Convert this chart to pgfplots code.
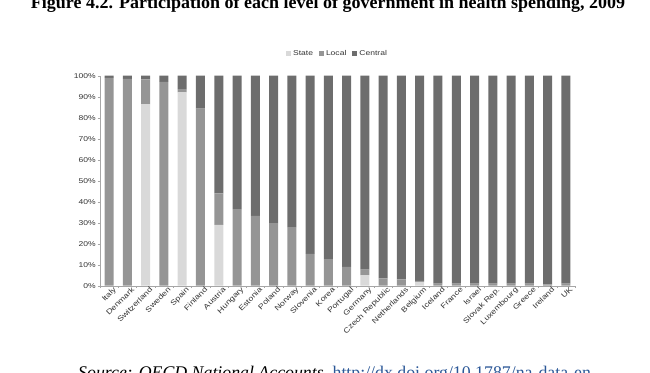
\documentclass[border=0pt]{standalone}
\usepackage{fontspec}
\setmainfont{Liberation Serif}
\newfontfamily\chartfont[FakeStretch=1.22]{Liberation Sans}
\usepackage{pgfplots}
\pgfplotsset{compat=1.18}
\usepackage{pgfplotstable}
\definecolor{cstate}{HTML}{D9D9D9}
\definecolor{clocal}{HTML}{959595}
\definecolor{ccentral}{HTML}{6D6D6D}
\definecolor{linkblue}{HTML}{2B5797}
\pgfplotstableread{
idx state local central
0  0    99   1
1  0    98.5 1.5
2  86.3 12   1.7
3  0    97   3
4  92   1.6  6.4
5  0    84.3 15.7
6  29   15   56
7  0    36.5 63.5
8  0    33.2 66.8
9  0    29.8 70.2
10 0    27.9 72.1
11 0    15.1 84.9
12 0    12.7 87.3
13 0    9    91
14 5    2.7  92.3
15 0    3.5  96.5
16 0    3    97
17 1.8  0.5  97.7
18 0    1    99
19 0    1    99
20 0    1    99
21 0    1    99
22 0    1    99
23 0    1    99
24 0    0.6  99.4
25 0    1    99
}\data
\begin{document}
\begin{tikzpicture}
\useasboundingbox (0,0) rectangle (650pt,372pt);
\node[font=\bfseries\fontsize{18}{21}\selectfont, anchor=base, inner sep=0pt] at (328pt,363pt) {Figure 4.2. Participation of each level of government in health spending, 2009};
\node[anchor=base west, font=\fontsize{17.8}{20}\selectfont, inner sep=0pt] at (78pt,-6pt) {\textit{Source: OECD National Accounts,} \textcolor{linkblue}{http://dx.doi.org/10.1787/na-data-en}};
\begin{axis}[
  at={(100pt,86.3pt)}, anchor=south west,
  scale only axis, width=475pt, height=210pt,
  ybar stacked, bar width=9pt,
  xmin=-0.5, xmax=25.5, ymin=0, ymax=100,
  axis lines*=left,
  axis line style={draw=gray!70},
  tick style={draw=gray!70},
  tick align=outside, major tick length=2.5pt,
  ytick={0,10,...,100},
  /pgf/number format/assume math mode=true,
  yticklabel={\pgfmathprintnumber{\tick}\%},
  ticklabel style={font=\chartfont\fontsize{7}{8}\selectfont, text=black!80},
  yticklabel style={inner sep=1.5pt},
  xtick={-0.5,0.5,...,25.5}, xticklabels={},
  extra x ticks={0,1,...,25},
  extra x tick labels={Italy,Denmark,Switzerland,Sweden,Spain,Finland,Austria,Hungary,Estonia,Poland,Norway,Slovenia,Korea,Portugal,Germany,{Czech Republic},Netherlands,Belgium,Iceland,France,Israel,{Slovak Rep.},Luxembourg,Greece,Ireland,UK},
  extra x tick style={major tick length=0pt, tick label style={rotate=45, anchor=north east, inner sep=1pt, yshift=-2pt, xshift=3pt, font=\chartfont\fontsize{7.3}{8}\selectfont}},
  legend style={at={(0.5,1.105)}, anchor=center, draw=none, fill=none, legend columns=3,
    font=\chartfont\fontsize{7}{8}\selectfont, text=black!80,
    /tikz/every even column/.append style={column sep=4pt}},
  legend image code/.code={\fill[#1] (0pt,-2.5pt) rectangle (5pt,2.5pt);},
]
\addplot[fill=cstate, draw=none] table[x=idx, y=state] {\data};
\addplot[fill=clocal, draw=none] table[x=idx, y=local] {\data};
\addplot[fill=ccentral, draw=none] table[x=idx, y=central] {\data};
\legend{State,Local,Central}
\end{axis}
\end{tikzpicture}
\end{document}
